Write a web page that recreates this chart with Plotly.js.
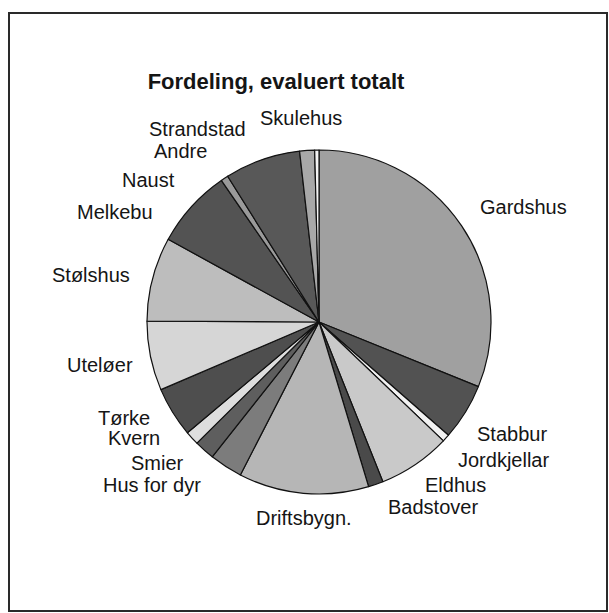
<!DOCTYPE html>
<html>
<head>
<meta charset="utf-8">
<script src="https://cdn.plot.ly/plotly-3.0.1.min.js"></script>
<style>
html,body{margin:0;padding:0;background:#fff;}
#chart{width:609px;height:613px;}
</style>
</head>
<body>
<div id="chart"></div>
<script>
// Categories in clockwise order, starting at 12 o'clock
var categories = ["Gardshus","Stabbur","Jordkjellar","Eldhus","Badstover","Driftsbygn.","Hus for dyr","Smier","Kvern","Tørke","Uteløer","Stølshus","Melkebu","Naust","Andre","Strandstad","Skulehus"];
// Shares (percent)
var shares = [31.1, 5.3, 0.7, 6.8, 1.4, 12.2, 3.1, 1.9, 1.3, 4.7, 6.5, 7.9, 7.4, 0.7, 7.1, 1.4, 0.4];

// Styling (grey tones approximating the halftone fills)
var fills = ["#a0a0a0","#525252","#f2f2f2","#c9c9c9","#4a4a4a","#b6b6b6","#7c7c7c","#5e5e5e","#dedede","#4e4e4e","#d6d6d6","#bdbdbd","#535353","#9a9a9a","#585858","#a8a8a8","#f4f4f4"];
// Label anchor positions in pixels (centre x, centre y), as laid out in the reference
var labelPos = [[523,207],[512,434],[503,460],[455,485],[433,507],[304,518],[152,485],[157,463],[134,438],[124,418],[100,365],[91,275],[115,212],[148,180],[180,151],[197,129],[301,118]];

var W = 609, H = 613;
var cx = 319, cy = 322, R = 172;

var trace = {
  type: "pie",
  labels: categories,
  values: shares,
  sort: false,
  direction: "clockwise",
  rotation: 0,
  textinfo: "none",
  hoverinfo: "label+percent",
  marker: {colors: fills, line: {color: "#111", width: 1.2}},
  domain: {x: [(cx - R) / W, (cx + R) / W], y: [(H - cy - R) / H, (H - cy + R) / H]},
  showlegend: false
};

var annotations = categories.map(function (c, i) {
  return {
    text: c, xref: "paper", yref: "paper",
    x: labelPos[i][0] / W, y: 1 - labelPos[i][1] / H,
    xanchor: "center", yanchor: "middle", showarrow: false,
    font: {family: "Liberation Sans, Arial, sans-serif", size: 20, color: "#151515"}
  };
});

var layout = {
  width: W, height: H,
  margin: {l: 0, r: 0, t: 0, b: 0},
  paper_bgcolor: "#ffffff",
  title: {
    text: "<b>Fordeling, evaluert totalt</b>",
    x: 276 / W, xanchor: "center", xref: "paper",
    y: 1 - 81 / H, yanchor: "middle", yref: "paper",
    font: {family: "Liberation Sans, Arial, sans-serif", size: 22, color: "#151515"}
  },
  annotations: annotations,
  shapes: [{
    type: "rect", xref: "paper", yref: "paper",
    x0: 9 / W, x1: 607 / W, y0: 1 - 611 / H, y1: 1 - 13 / H,
    line: {color: "#2a2a2a", width: 2}
  }]
};

Plotly.newPlot("chart", [trace], layout, {staticPlot: true, displayModeBar: false});
</script>
</body>
</html>
